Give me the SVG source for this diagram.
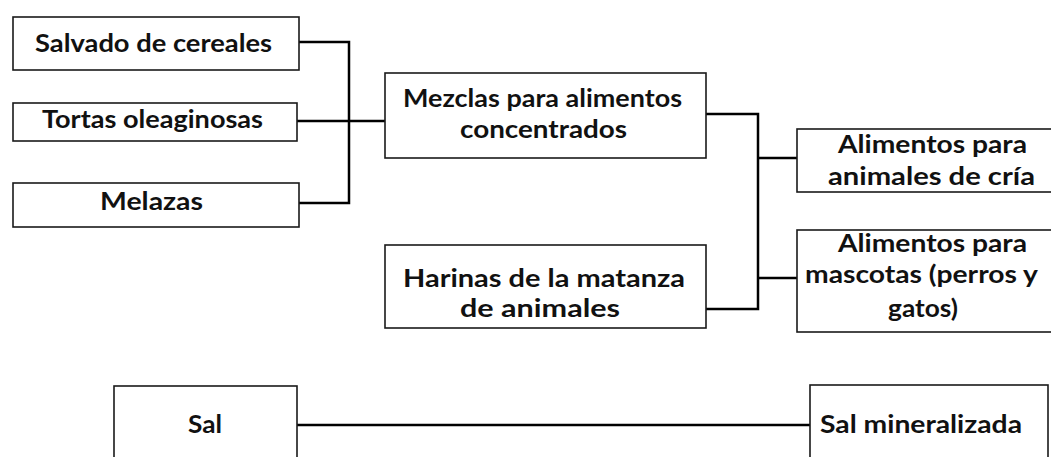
<svg xmlns="http://www.w3.org/2000/svg" width="1051" height="457" viewBox="0 0 1051 457">
<style>
.box{fill:#fff;stroke:#1a1a1a;stroke-width:1.6}
.t{font-family:Lato,"Liberation Sans",sans-serif;font-weight:bold;font-size:24px;fill:#111;text-anchor:middle}
.c{fill:none;stroke:#000;stroke-width:2.5}
</style>
<rect width="1051" height="457" fill="#fff"/>
<g id="connectors">
<path class="c" d="M299 42H349V203H299M297 121H385"/>
<path class="c" d="M706 114H758V309H706M758 158H797M758 278H797"/>
<path class="c" d="M297 425H810"/>
</g>
<g id="salvado"><rect class="box" x="13" y="17" width="286" height="53"/><text class="t" x="153.5" y="52" textLength="237" lengthAdjust="spacingAndGlyphs">Salvado de cereales</text></g>
<g id="tortas"><rect class="box" x="13" y="103" width="284" height="38"/><text class="t" x="152.5" y="128" textLength="221" lengthAdjust="spacingAndGlyphs">Tortas oleaginosas</text></g>
<g id="melazas"><rect class="box" x="13" y="183" width="286" height="44"/><text class="t" x="151.5" y="210" textLength="103" lengthAdjust="spacingAndGlyphs">Melazas</text></g>
<g id="mezclas"><rect class="box" x="385" y="73" width="321" height="85"/><text class="t" x="542.5" y="107" textLength="279" lengthAdjust="spacingAndGlyphs">Mezclas para alimentos</text><text class="t" x="543.5" y="138" textLength="167" lengthAdjust="spacingAndGlyphs">concentrados</text></g>
<g id="harinas"><rect class="box" x="385" y="245" width="321" height="83"/><text class="t" x="544" y="287" textLength="282" lengthAdjust="spacingAndGlyphs">Harinas de la matanza</text><text class="t" x="540" y="317" textLength="160" lengthAdjust="spacingAndGlyphs">de animales</text></g>
<g id="cria"><rect class="box" x="797" y="129" width="256" height="63"/><text class="t" x="932.5" y="153" textLength="189" lengthAdjust="spacingAndGlyphs">Alimentos para</text><text class="t" x="931.5" y="185" textLength="207" lengthAdjust="spacingAndGlyphs">animales de cría</text></g>
<g id="mascotas"><rect class="box" x="797" y="230" width="256" height="102"/><text class="t" x="932.5" y="252" textLength="189" lengthAdjust="spacingAndGlyphs">Alimentos para</text><text class="t" x="921.5" y="283" textLength="233" lengthAdjust="spacingAndGlyphs">mascotas (perros y</text><text class="t" x="923" y="317" textLength="70" lengthAdjust="spacingAndGlyphs">gatos)</text></g>
<g id="sal"><rect class="box" x="114" y="386" width="183" height="80"/><text class="t" x="205" y="433" textLength="34" lengthAdjust="spacingAndGlyphs">Sal</text></g>
<g id="salmin"><rect class="box" x="810" y="385" width="238" height="80"/><text class="t" x="921" y="433" textLength="202" lengthAdjust="spacingAndGlyphs">Sal mineralizada</text></g>
</svg>
